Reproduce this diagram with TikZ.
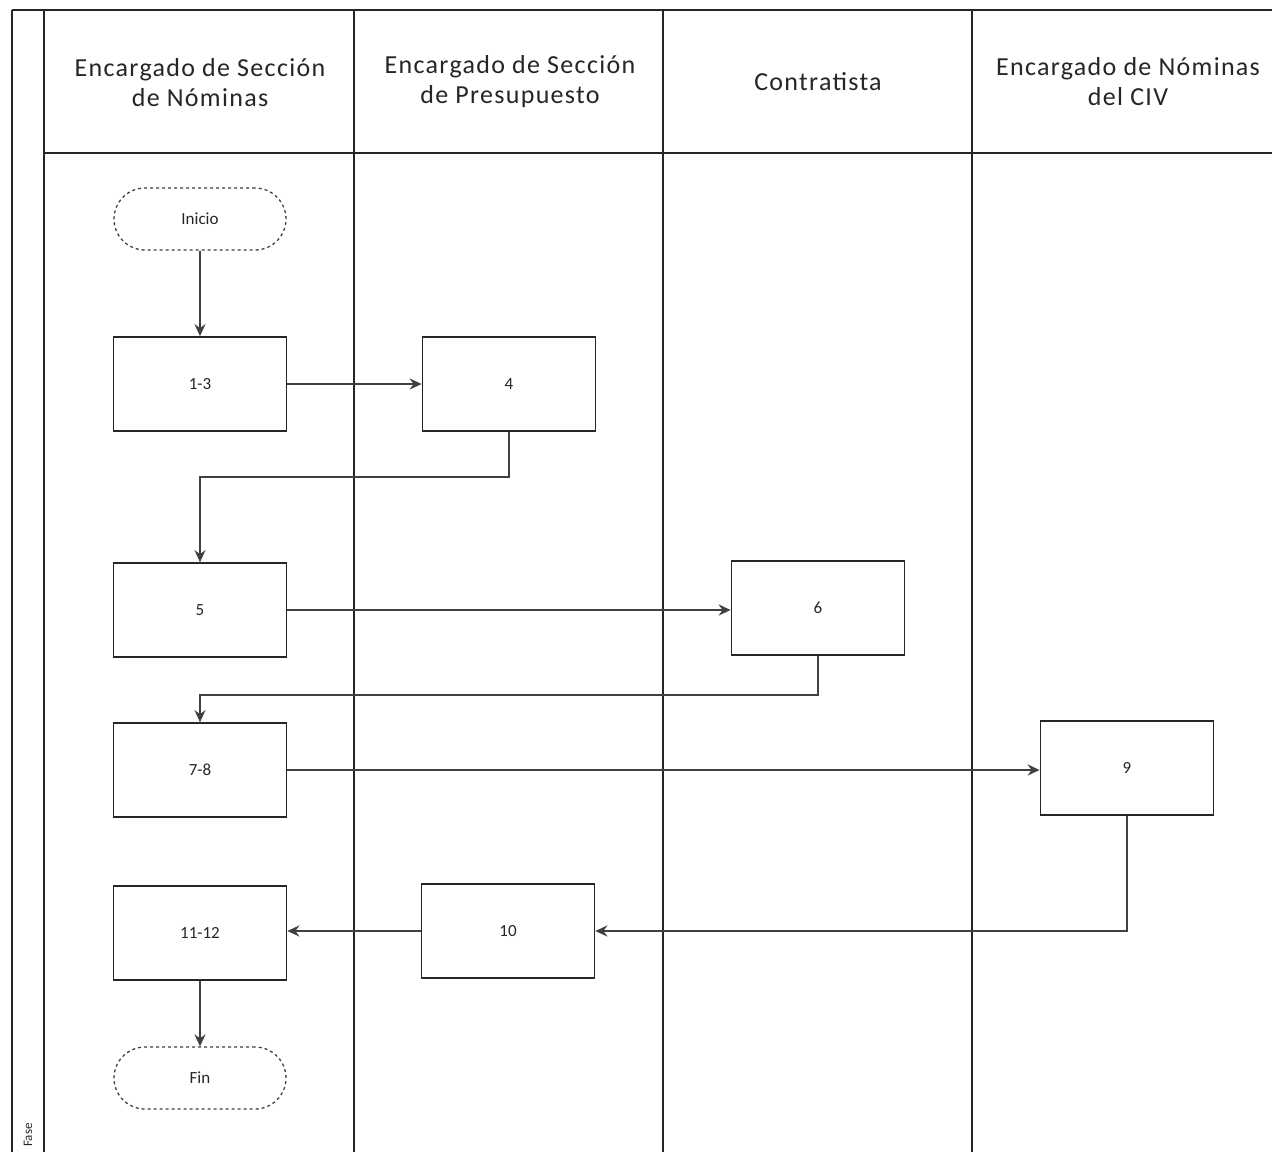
\documentclass[tikz,border=0pt]{standalone}
\usepackage{fontspec}
\setmainfont{Carlito}
\usetikzlibrary{arrows.meta,calc}
\tikzset{
  lane/.style={line width=1.7pt, draw=black!85},
  hdr/.style={align=center, font=\fontsize{26}{30}\selectfont\addfontfeatures{LetterSpace=5}, text=black!85},
  proc/.style={draw=black!85, line width=1.7pt, minimum width=173pt, minimum height=94pt, inner sep=0pt, font=\fontsize{17}{20}\selectfont, text=black!85},
  term/.style={draw=black!75, dashed, line width=1.3pt, rounded corners=31pt, minimum width=172pt, minimum height=62pt, inner sep=0pt, font=\fontsize{17}{20}\selectfont, text=black!85},
  flow/.style={draw=black!75, line width=2pt, -{Stealth[length=12pt,width=11pt,inset=4pt]}}
}
\begin{document}
\begin{tikzpicture}[x=1pt,y=-1pt]
\useasboundingbox (0,0) rectangle (1272,1152);
\fill[white] (0,0) rectangle (1272,1152);
% frame
\draw[lane] (12,10) -- (1272,10);
\draw[lane] (12,10) -- (12,1152);
\draw[lane] (44,10) -- (44,1152);
\draw[lane] (44,153) -- (1272,153);
\draw[lane] (354,10) -- (354,1152);
\draw[lane] (663,10) -- (663,1152);
\draw[lane] (972,10) -- (972,1152);
% headers
\node[hdr] (h1) at (200,83) {Encargado de Sección\\de Nóminas};
\node[hdr] (h2) at (510,82) {Encargado de Sección\\de Presupuesto};
\node[hdr] (h3) at (818,82) {Contratista};
\node[hdr] (h4) at (1128,82) {Encargado de Nóminas\\del CIV};
\node[rotate=90, font=\fontsize{13}{15}\selectfont, text=black!85] (fase) at (28,1135) {Fase};
% nodes
\node[term] (ini) at (200,219) {Inicio};
\node[proc] (n13) at (200,384) {1-3};
\node[proc] (n4) at (509,384) {4};
\node[proc] (n5) at (200,610) {5};
\node[proc] (n6) at (818,608) {6};
\node[proc] (n78) at (200,770) {7-8};
\node[proc] (n9) at (1127,768) {9};
\node[proc] (n10) at (508,931) {10};
\node[proc] (n1112) at (200,933) {11-12};
\node[term] (fin) at (200,1078) {Fin};
\coordinate (j1) at (200,477);
\coordinate (j2) at (200,695);
% connectors
\draw[flow] (ini) -- (n13);
\draw[flow] (n13) -- (n4);
\draw[flow] (n4.south) |- (j1) -- (n5.north);
\draw[flow] (n5.east) -- (n5.east -| n6.west);
\draw[flow] (n6.south) |- (j2) -- (n78.north);
\draw[flow] (n78.east) -- (n78.east -| n9.west);
\draw[flow] (n9.south) |- (n10.east);
\draw[flow] (n10.west) -- (n10.west -| n1112.east);
\draw[flow] (n1112) -- (fin);
\end{tikzpicture}
\end{document}
